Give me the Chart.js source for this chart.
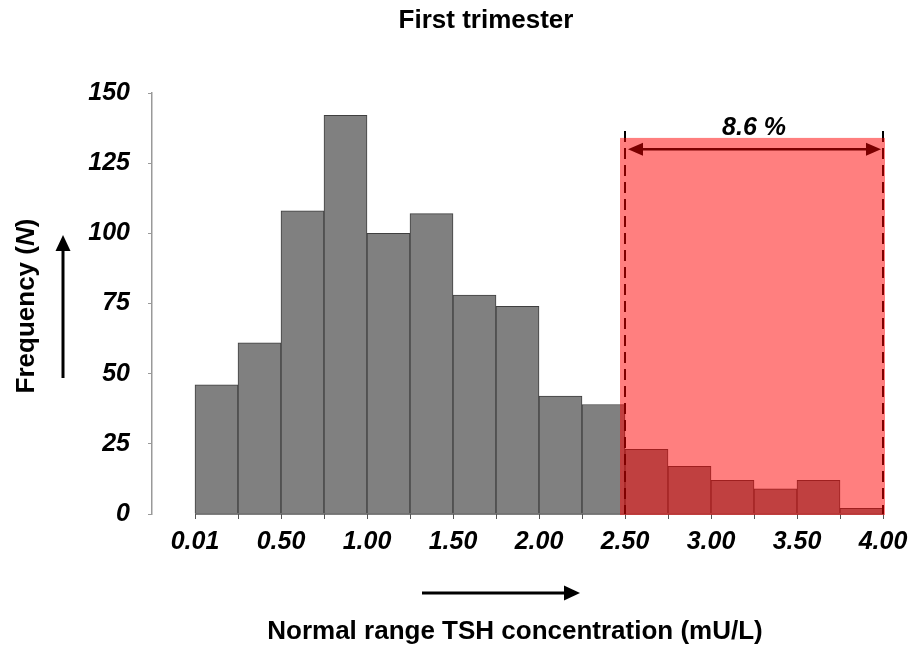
<!DOCTYPE html>
<html>
<head>
<meta charset="utf-8">
<script src="https://cdn.jsdelivr.net/npm/chart.js@4"></script>
<style>
  html, body { margin: 0; padding: 0; background: #fff; }
  canvas { display: block; }
</style>
</head>
<body>
<canvas id="c" width="908" height="647"></canvas>
<script>
// TSH histogram, first trimester. Bins are 0.25 mU/L wide, bar i sits on [i, i+1].
const counts = [46, 61, 108, 142, 100, 107, 78, 74, 42, 39, 23, 17, 12, 9, 12, 2];
const tickLabels = ["0.01", "0.50", "1.00", "1.50", "2.00", "2.50", "3.00", "3.50", "4.00"];
const binEdges = [0, 1, 2, 3, 4, 5, 6, 7, 8, 9, 10, 11, 12, 13, 14, 15, 16];
const yTicks = [0, 25, 50, 75, 100, 125, 150];
const highlightFrom = 10, highlightTo = 16;
const highlightLabel = "8.6 %";

const FAM = '"Liberation Sans", Arial, Helvetica, sans-serif';
const tickFont = { family: FAM, size: 25, weight: "bold", style: "italic" };

function arrowHead(ctx, tx, ty, ang, len, half) {
  ctx.save();
  ctx.translate(tx, ty);
  ctx.rotate(ang);
  ctx.beginPath();
  ctx.moveTo(0, 0);
  ctx.lineTo(-len, -half);
  ctx.lineTo(-len, half);
  ctx.closePath();
  ctx.fill();
  ctx.restore();
}

const decor = {
  id: "decor",
  afterDraw(chart) {
    const ctx = chart.ctx, x = chart.scales.x, y = chart.scales.y;
    const y0 = y.getPixelForValue(0);
    ctx.save();

    // x axis line only under the bars (the y axis stands apart)
    ctx.strokeStyle = "#555";
    ctx.lineWidth = 1.5;
    ctx.beginPath();
    ctx.moveTo(x.getPixelForValue(binEdges[0]), y0);
    ctx.lineTo(x.getPixelForValue(binEdges[binEdges.length - 1]), y0);
    ctx.stroke();

    // dashed limits, drawn under the red band
    const xa = x.getPixelForValue(highlightFrom), xb = x.getPixelForValue(highlightTo);
    ctx.strokeStyle = "#000";
    ctx.lineWidth = 2;
    ctx.setLineDash([11, 6]);
    [xa, xb].forEach(px => {
      ctx.beginPath();
      ctx.moveTo(px, y.getPixelForValue(136.5));
      ctx.lineTo(px, y0);
      ctx.stroke();
    });
    ctx.setLineDash([]);

    // red band
    ctx.fillStyle = "rgba(255,0,0,0.5)";
    const top = y.getPixelForValue(134);
    ctx.fillRect(xa - 5, top, xb + 2 - (xa - 5), y0 + 1 - top);

    // double arrow
    const ay = y.getPixelForValue(130);
    ctx.strokeStyle = "#7a0000";
    ctx.fillStyle = "#7a0000";
    ctx.lineWidth = 2.5;
    ctx.beginPath();
    ctx.moveTo(xa + 14, ay);
    ctx.lineTo(xb - 14, ay);
    ctx.stroke();
    arrowHead(ctx, xa + 3, ay, Math.PI, 15, 6.5);
    arrowHead(ctx, xb - 2, ay, 0, 15, 6.5);

    ctx.fillStyle = "#000";
    ctx.font = "italic bold 25px " + FAM;
    ctx.textAlign = "center";
    ctx.textBaseline = "middle";
    ctx.fillText(highlightLabel, (xa + xb) / 2, y.getPixelForValue(137.5));

    // chart title
    ctx.font = "bold 26px " + FAM;
    ctx.fillText("First trimester", 486, 21);

    // x axis title + arrow
    ctx.font = "bold 26px " + FAM;
    ctx.fillText("Normal range TSH concentration (mU/L)", 515, 632);
    ctx.strokeStyle = "#000";
    ctx.fillStyle = "#000";
    ctx.lineWidth = 3;
    ctx.beginPath();
    ctx.moveTo(422, 593);
    ctx.lineTo(566, 593);
    ctx.stroke();
    arrowHead(ctx, 580, 593, 0, 16, 7.5);

    // y axis title with italic N, rotated
    ctx.save();
    ctx.translate(27, 306);
    ctx.rotate(-Math.PI / 2);
    const parts = [["Frequency (", "bold"], ["N", "italic bold"], [")", "bold"]];
    let total = 0;
    parts.forEach(p => { ctx.font = p[1] + " 26px " + FAM; total += ctx.measureText(p[0]).width; });
    let cx = -total / 2;
    ctx.textAlign = "left";
    parts.forEach(p => {
      ctx.font = p[1] + " 26px " + FAM;
      ctx.fillText(p[0], cx, 0);
      cx += ctx.measureText(p[0]).width;
    });
    ctx.restore();

    // y arrow
    ctx.lineWidth = 3;
    ctx.beginPath();
    ctx.moveTo(63, 378);
    ctx.lineTo(63, 250);
    ctx.stroke();
    arrowHead(ctx, 63, 235, -Math.PI / 2, 16, 7.5);

    ctx.restore();
  }
};

new Chart(document.getElementById("c"), {
  type: "bar",
  data: {
    datasets: [{
      data: counts.map((v, i) => ({ x: binEdges[i] + 0.5, y: v })),
      backgroundColor: "#808080",
      borderColor: "#3f3f3f",
      borderWidth: 1,
      barPercentage: 1,
      categoryPercentage: 1
    }]
  },
  options: {
    responsive: false,
    animation: false,
    layout: { padding: { left: 50, top: 93, right: 25, bottom: 89 } },
    plugins: { legend: { display: false }, tooltip: { enabled: false }, title: { display: false } },
    scales: {
      x: {
        type: "linear", min: -1, max: 16, offset: false,
        grid: { offset: false, drawOnChartArea: false, drawTicks: true, tickLength: 5, color: "#555", lineWidth: 1 },
        border: { display: false },
        afterBuildTicks: s => { s.ticks = binEdges.map(v => ({ value: v })); },
        ticks: {
          autoSkip: false, maxRotation: 0, padding: 8, color: "#000", font: tickFont,
          callback: v => (v % 2 === 0 ? tickLabels[v / 2] : "")
        },
        afterFit: s => { s.height = 44; s.paddingLeft = 0; s.paddingRight = 0; }
      },
      y: {
        min: 0, max: 150,
        afterBuildTicks: s => { s.ticks = yTicks.map(v => ({ value: v })); },
        grid: { drawOnChartArea: false, drawTicks: true, tickLength: 4, color: "#999" },
        border: { color: "#999", width: 1.5 },
        ticks: { padding: 18, color: "#000", font: tickFont },
        afterFit: s => { s.width = 102; s.paddingTop = 0; s.paddingBottom = 0; }
      }
    }
  },
  plugins: [decor]
});
</script>
</body>
</html>
